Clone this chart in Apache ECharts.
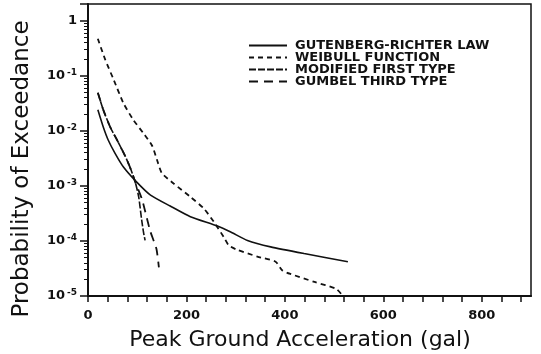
<!DOCTYPE html>
<html>
<head>
<meta charset="utf-8">
<script src="https://cdn.jsdelivr.net/npm/echarts@6/dist/echarts.min.js"></script>
<style>
  html, body { margin: 0; padding: 0; background: #ffffff; }
  #chart { width: 541px; height: 354px; }
</style>
</head>
<body>
<div id="chart"></div>
<script>
// peak ground acceleration (gal) vs probability of exceedance
const grAcc = [20, 31, 41, 55, 72, 99, 127, 167, 208, 263, 290, 324, 371, 439, 528]
const grProb = [0.024, 0.0117, 0.0068, 0.0039, 0.0022, 0.00117, 6.8e-4, 4.3e-4, 2.75e-4, 1.86e-4, 1.45e-4, 1.02e-4, 7.8e-5, 5.9e-5, 4.2e-5]

const weibullAcc = [20, 35, 52, 72, 92, 113, 130, 140, 150, 174, 208, 235, 256, 276, 286, 303, 344, 381, 395, 412, 460, 504, 518]
const weibullProb = [0.468, 0.195, 0.0851, 0.0316, 0.0158, 0.0089, 0.0054, 0.003, 0.0017, 0.0011, 6.3e-4, 3.9e-4, 2.2e-4, 1.17e-4, 8.3e-5, 6.9e-5, 5.2e-5, 4.2e-5, 2.9e-5, 2.5e-5, 1.8e-5, 1.35e-5, 1.0e-5]

const modAcc = [20, 31, 45, 59, 76, 86, 96, 103, 109, 113, 116]
const modProb = [0.049, 0.024, 0.0117, 0.0068, 0.0034, 0.0021, 0.00117, 6.3e-4, 2.4e-4, 1.4e-4, 1.02e-4]

const gumbelAcc = [20, 31, 45, 59, 76, 86, 96, 110, 126, 139, 144]
const gumbelProb = [0.049, 0.024, 0.0117, 0.0068, 0.0034, 0.0021, 0.00117, 5.6e-4, 1.55e-4, 7.2e-5, 3.3e-5]

const seriesNames = ['GUTENBERG-RICHTER LAW', 'WEIBULL FUNCTION', 'MODIFIED FIRST TYPE', 'GUMBEL THIRD TYPE']
const xLabelStep = 200

const pair = (xs, ys) => xs.map((x, i) => [x, ys[i]])

const ink = '#111111'
const font = 'DejaVu Sans'

const chart = echarts.init(document.getElementById('chart'))

const lineSeries = (name, xs, ys, dash, width) => ({
  name: name,
  type: 'line',
  data: pair(xs, ys),
  symbol: 'none',
  showSymbol: false,
  smooth: 0.2,
  lineStyle: { color: ink, width: width, type: dash },
  itemStyle: { color: ink },
  z: 3
})

const option = {
  backgroundColor: '#ffffff',
  animation: false,
  grid: {
    left: 88,
    right: 10,
    top: 4,
    bottom: 58,
    show: true,
    borderColor: ink,
    borderWidth: 1.5,
    outerBoundsMode: 'none'
  },
  legend: {
    data: seriesNames,
    orient: 'vertical',
    left: 243,
    top: 34,
    itemWidth: 38,
    itemHeight: 11,
    itemGap: -1,
    itemStyle: { opacity: 0, borderWidth: 0 },
    textStyle: {
      fontFamily: font,
      fontWeight: 'bold',
      fontSize: 13,
      color: ink,
      lineHeight: 11,
      padding: [0, 0, 0, 3]
    }
  },
  xAxis: {
    type: 'value',
    min: 0,
    max: 900,
    interval: 40,
    splitLine: { show: false },
    axisLine: { onZero: false, lineStyle: { color: ink, width: 2 } },
    axisTick: { length: 6, lineStyle: { color: ink, width: 1.5 } },
    axisLabel: {
      margin: 13,
      fontFamily: font,
      fontWeight: 'bold',
      fontSize: 13,
      color: ink,
      showMaxLabel: false,
      formatter: v => (v % xLabelStep === 0 ? String(v) : '')
    }
  },
  yAxis: {
    type: 'log',
    logBase: 10,
    min: 1e-5,
    max: 2,
    splitLine: { show: false },
    axisLine: { lineStyle: { color: ink, width: 2 } },
    axisTick: { length: 8, lineStyle: { color: ink, width: 1.5 } },
    minorTick: { show: true, splitNumber: 9, length: 4, lineStyle: { color: ink, width: 1 } },
    minorSplitLine: { show: false },
    axisLabel: {
      margin: 11,
      fontFamily: font,
      fontWeight: 'bold',
      fontSize: 13,
      color: ink,
      formatter: v => {
        if (v > 1.5) return ''
        if (Math.abs(v - 1) < 1e-9) return '1'
        return '10{s|' + Math.round(Math.log10(v)) + '}'
      },
      rich: {
        s: { fontFamily: font, fontWeight: 'bold', fontSize: 9, color: ink, verticalAlign: 'top', padding: [0, 0, 6, 2] }
      }
    }
  },
  graphic: [
    {
      type: 'text',
      x: 300,
      y: 340,
      style: {
        text: 'Peak Ground Acceleration (gal)',
        font: '22px "DejaVu Sans"',
        fill: ink,
        textAlign: 'center',
        textVerticalAlign: 'middle'
      }
    },
    {
      type: 'text',
      x: 22,
      y: 169,
      rotation: Math.PI / 2,
      style: {
        text: 'Probability of Exceedance',
        font: '23px "DejaVu Sans"',
        fill: ink,
        textAlign: 'center',
        textVerticalAlign: 'middle'
      }
    }
  ],
  series: [
    lineSeries(seriesNames[0], grAcc, grProb, 'solid', 1.6),
    lineSeries(seriesNames[1], weibullAcc, weibullProb, [5, 4], 1.8),
    lineSeries(seriesNames[2], modAcc, modProb, [7, 2], 1.6),
    lineSeries(seriesNames[3], gumbelAcc, gumbelProb, [9, 6], 1.8)
  ]
}

chart.setOption(option)
</script>
</body>
</html>
